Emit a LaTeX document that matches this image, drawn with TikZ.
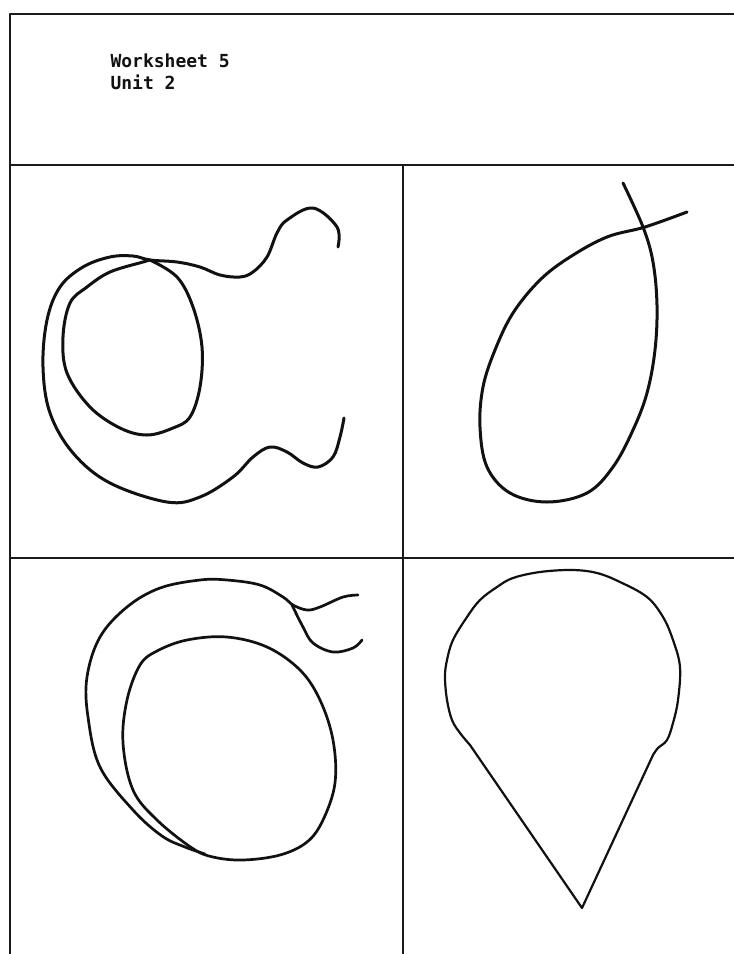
\documentclass[tikz,border=0pt]{standalone}
\usepackage{fontspec}
\usepackage{tikz}
\usetikzlibrary{positioning}
\newfontfamily\sheetfont{DejaVu Sans Mono}
\definecolor{wsink}{HTML}{111111}
\definecolor{wsframe}{HTML}{1A1A1A}

\begin{document}
\begin{tikzpicture}[x=1pt, y=-1pt, line width=3pt, line cap=round, line join=round, draw=wsink]
  \useasboundingbox[fill=white] (0,0) rectangle (734,954);
  % frame
  \draw[wsframe, line width=2.4pt] (734,14) -- (10,14) -- (10,954);
  \draw[wsframe, line width=2pt] (10,165) -- (734,165);
  \draw[wsframe, line width=1.8pt] (10,558) -- (734,558);
  \draw[wsframe, line width=1.8pt] (403,165) -- (403,954);
  % heading
  \node[anchor=base west, inner sep=0pt, font=\sheetfont\bfseries\fontsize{18}{20}\selectfont, text=wsink] (sheet) at (109,67) {Worksheet 5};
  \node[anchor=base west, inner sep=0pt, font=\sheetfont\bfseries\fontsize{18}{20}\selectfont, text=wsink] (unit) at ([yshift=-22pt]sheet.base west) {Unit 2};
  % upper left: loop with two bumps
  \draw[wsink]
    plot[smooth, tension=0.6] coordinates {(338,247) (337,227) (313,208) (287,220) (277,233) (267,257) (253,272) (240,277) (220,275) (200,267) (177,262) (150,260) (133,256) (110,257) (83,267) (60,287) (47,320) (43,367) (50,413) (73,453) (110,483) (167,502) (200,497) (233,477) (253,457) (270,447) (287,452) (303,463) (318,467) (333,457) (340,437) (344,418)};
  \draw[wsink]
    plot[smooth, tension=0.6] coordinates {(150,260) (177,277) (193,307) (202,347) (200,387) (190,417) (173,428) (147,435) (120,428) (90,407) (67,373) (63,337) (70,303) (87,287) (110,272) (143,262) (150,260)};
  % upper right: egg with crossing tail
  \draw[wsink]
    plot[smooth, tension=0.6] coordinates {(623,183) (643,227) (653,262) (657,305) (655,350) (647,393) (633,430) (613,467) (587,493) (547,502) (510,493) (487,467) (480,427) (483,387) (495,350) (513,313) (540,280) (570,257) (607,237) (645,227) (687,212)};
  % lower left: two rings and a hook
  \draw[wsink, line width=2.7pt]
    plot[smooth, tension=0.6] coordinates {(358,595) (343,597) (320,607) (307,610) (293,605) (283,597) (260,585) (227,580) (200,580) (160,588) (127,607) (100,637) (87,677) (88,717) (100,767) (133,810) (162,836) (185,847) (205,854)};
  \draw[wsink, line width=2.7pt]
    plot[smooth, tension=0.6] coordinates {(292,605) (303,627) (313,643) (333,652) (353,648) (362,640)};
  \draw[wsink, line width=2.7pt]
    plot[smooth cycle, tension=0.6] coordinates {(192,848) (157,820) (133,790) (123,743) (127,700) (140,665) (157,651) (187,640) (227,637) (267,647) (300,670) (320,700) (333,740) (335,783) (323,820) (307,842) (280,855) (243,860) (213,857)};
  % lower right: cone
  \coordinate (tip) at (582,908);
  \draw[wsink, line width=2.2pt] (tip) -- plot[smooth, tension=0.6] coordinates {(470,745) (460,733) (452,720) (447,700) (445,677) (447,660) (453,640) (467,617) (480,600) (497,587) (513,578) (540,572) (572,570) (597,573) (620,582) (647,597) (663,617) (673,640) (680,667) (678,700) (673,723) (667,740) (658,748) (653,755)} -- cycle;
\end{tikzpicture}
\end{document}
